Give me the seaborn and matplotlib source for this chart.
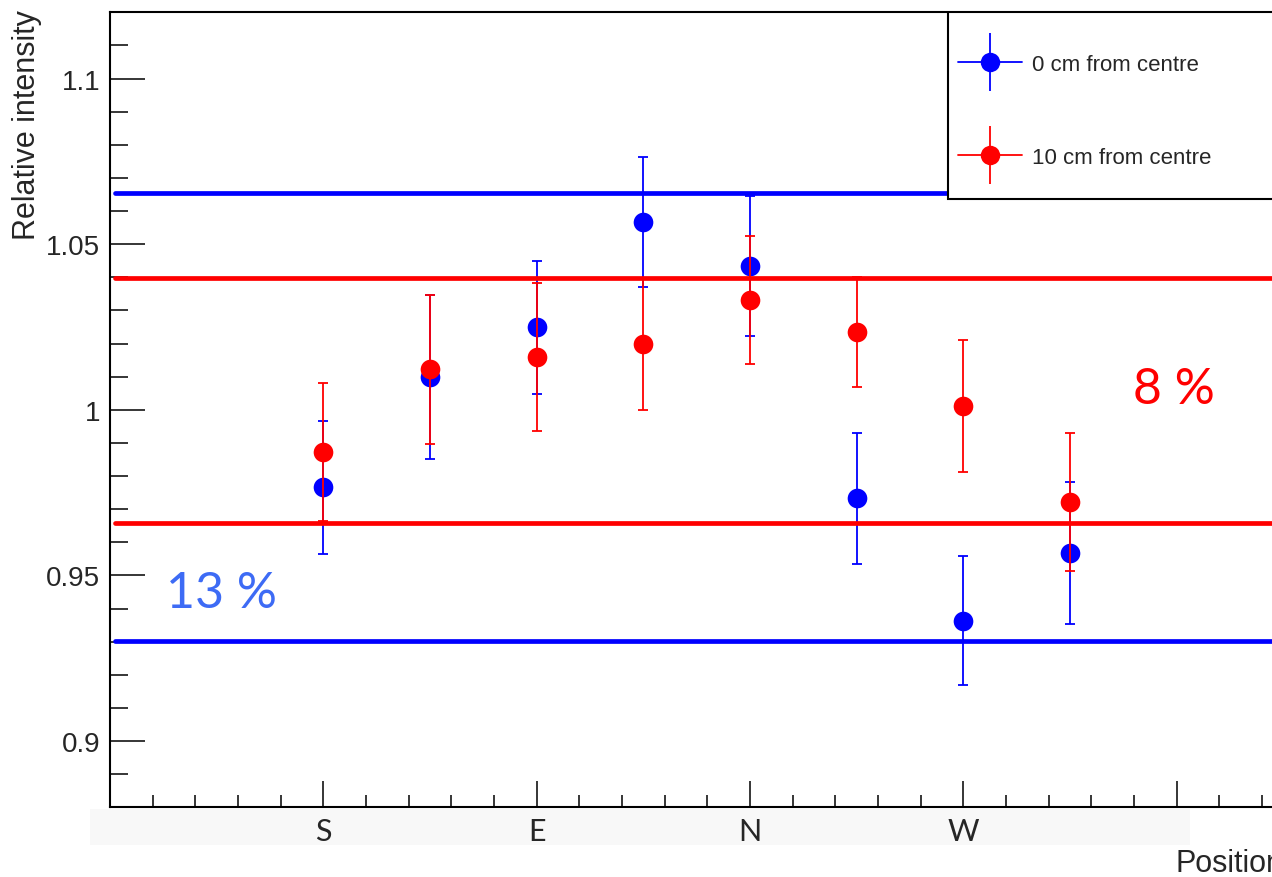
import numpy as np
import pandas as pd
import matplotlib
matplotlib.use("Agg")
import matplotlib.pyplot as plt
from matplotlib.lines import Line2D
from matplotlib.patches import Rectangle
from matplotlib.ticker import MultipleLocator
import seaborn as sns

# positions around the detector (S, E, N, W plus the in-between points)
positions = [1, 1.5, 2, 2.5, 3, 3.5, 4, 4.5]
tick_names = ["", "S", "E", "N", "W", ""]

centre_vals = [0.9766, 1.0100, 1.0249, 1.0567, 1.0434, 0.9733, 0.9363, 0.9567]
centre_errs = [0.0201, 0.0248, 0.0200, 0.0195, 0.0210, 0.0198, 0.0195, 0.0214]
off_vals = [0.9873, 1.0122, 1.0160, 1.0198, 1.0331, 1.0235, 1.0012, 0.9721]
off_errs = [0.0209, 0.0224, 0.0223, 0.0198, 0.0194, 0.0165, 0.0200, 0.0208]

centre_band = [0.9302, 1.0655]
off_band = [0.9657, 1.0397]

series_names = ["0 cm from centre", "10 cm from centre"]
colors = ["#0000ff", "#ff0000"]

df = pd.DataFrame({
    "pos": positions * 2,
    "val": centre_vals + off_vals,
    "err": centre_errs + off_errs,
    "series": [series_names[0]] * 8 + [series_names[1]] * 8,
})

sns.set_style("ticks")
plt.rcParams["font.family"] = ["Liberation Sans", "DejaVu Sans"]

fig = plt.figure(figsize=(12.72, 8.78), dpi=100)
ax = fig.add_axes([110 / 1272, 69.7 / 878, 1173.3 / 1272, 795 / 878])

for i, name in enumerate(series_names):
    sub = df[df.series == name]
    ax.errorbar(sub.pos, sub.val, yerr=sub.err, fmt="none", ecolor=colors[i],
                elinewidth=1.3, capsize=3.8, capthick=1.3, zorder=2 + i * 0.2)
    sns.scatterplot(data=sub, x="pos", y="val", color=colors[i], s=200,
                    linewidth=0, legend=False, ax=ax, zorder=2.1 + i * 0.2)

for v in centre_band:
    ax.axhline(v, xmin=0.004, color=colors[0], lw=3.4, zorder=3)
for v in off_band:
    ax.axhline(v, xmin=0.004, color=colors[1], lw=3.4, zorder=3)

ax.text(0.2625, 0.9405, "13 %", color="#3d6bf5", fontsize=36, family="Lato",
        va="baseline", ha="left")
ax.text(4.795, 1.0021, "8 %", color="#ff0000", fontsize=36, family="Lato",
        va="baseline", ha="left")

ax.set_xlim(0, 5.5)
ax.set_ylim(0.88, 1.12)
ax.set_xticks(range(len(tick_names)))
ax.set_xticklabels(tick_names, fontsize=22, family="Lato")
ax.xaxis.set_minor_locator(MultipleLocator(0.2))
yt = [0.9, 0.95, 1.0, 1.05, 1.1]
ax.set_yticks(yt)
ax.set_yticklabels(["0.9", "0.95", "1", "1.05", "1.1"], fontsize=20)
ax.yaxis.set_minor_locator(MultipleLocator(0.01))

ax.tick_params(which="both", direction="in", width=1.1, color="black",
               top=False, right=False)
ax.tick_params(axis="x", which="major", length=18.5, pad=7)
ax.tick_params(axis="x", which="minor", length=9)
ax.tick_params(axis="y", which="major", length=25, pad=7)
ax.tick_params(axis="y", which="minor", length=13)
for s in ax.spines.values():
    s.set_linewidth(1.5)
    s.set_color("black")

ax.set_xlabel("Position", loc="right", fontsize=22, labelpad=2)
ax.set_ylabel("")
fig.text(27 / 1272, 1 - 10 / 878, "Relative intensity", rotation=90,
         ha="center", va="top", fontsize=22)

# legend box
ax.add_patch(Rectangle((0.714, 0.7652), 0.4, 0.2348, transform=ax.transAxes,
                       facecolor="white", edgecolor="black", lw=1.5, zorder=4))
handles = []
for c in colors:
    handles.append((Line2D([0], [0], color=c, lw=1.3, marker="o", ms=14, mew=0),
                    Line2D([0], [0], color=c, lw=0, marker="|", ms=42, mew=1.3)))
leg = ax.legend(handles, series_names, loc="upper left",
                bbox_to_anchor=(0.7227, 0.9475), frameon=False, fontsize=16,
                handlelength=2.9, handletextpad=0.45, labelspacing=3.22,
                borderpad=0, borderaxespad=0)
leg.set_zorder(5)

fig.patches.append(Rectangle((90 / 1272, 32 / 878), 1100 / 1272, 36 / 878,
                             transform=fig.transFigure, facecolor="#f8f8f8",
                             edgecolor="none", zorder=-1))

fig.savefig("out.png", dpi=100)
